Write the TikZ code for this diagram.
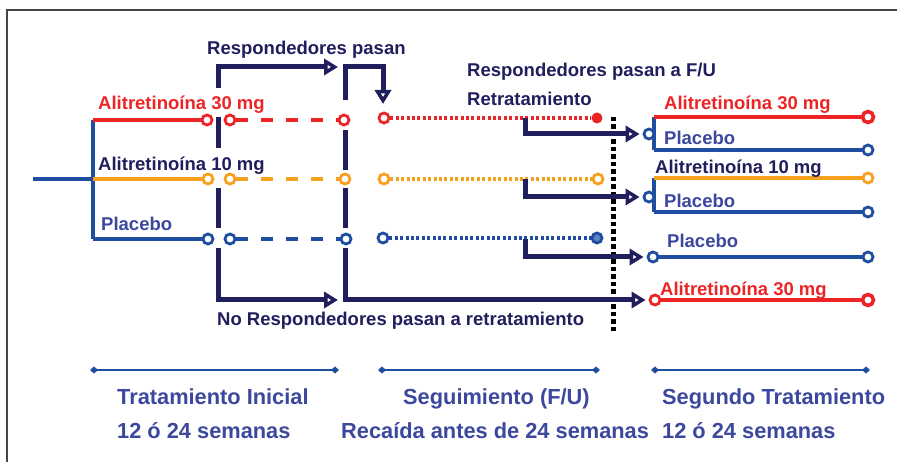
\documentclass[tikz,border=0pt]{standalone}
\usepackage{fontspec}
\setmainfont{Liberation Sans}
\usetikzlibrary{arrows.meta}
\definecolor{navy}{RGB}{32,30,92}
\definecolor{cred}{RGB}{237,36,38}
\definecolor{corange}{RGB}{247,160,30}
\definecolor{cblue}{RGB}{31,78,160}
\definecolor{lblue}{RGB}{59,72,158}
\definecolor{frame}{RGB}{70,70,70}
\tikzset{
  ring/.style={circle, draw, fill=white, line width=2.8pt, minimum size=10pt, inner sep=0pt},
  ringend/.style={ring, line width=3.6pt, minimum size=11pt},
  solidl/.style={line width=3.2pt},
  dashl/.style={line width=3.4pt, dash pattern=on 12pt off 13pt},
  dotl/.style={line width=3.2pt, dash pattern=on 3pt off 2.4pt},
  navyl/.style={draw=navy, line width=5pt},
  navyarrow/.style={navyl, -{Triangle[open, length=14pt, width=16pt, line width=3.8pt]}},
  lab/.style={anchor=base west, inner sep=0pt, font=\fontsize{18.5}{20}\selectfont\bfseries},
  blab/.style={anchor=base west, inner sep=0pt, font=\fontsize{21.8}{24}\selectfont\bfseries, text=lblue},
  span/.style={draw=cblue, line width=2pt, {Diamond[length=8pt,width=7pt]}-{Diamond[length=8pt,width=7pt]}}
}
\begin{document}
\begin{tikzpicture}[x=1pt,y=-1pt]
\useasboundingbox (0,0) rectangle (897,462);
% frame
\coordinate (fbl) at (7,462);
\coordinate (ftl) at (7,10);
\coordinate (ftr) at (897,10);
\draw[frame, line width=2pt] (fbl) -- (ftl) -- (ftr);

% ---------- initial treatment ----------
\coordinate (root) at (33,179);
\coordinate (bT) at (93,120);
\coordinate (bM) at (93,179);
\coordinate (bB) at (93,239);
\draw[cblue, solidl] (root) -- (bM);
\draw[cblue, solidl] (bT) -- (bB);

\node[ring, draw=cred] (r1) at (207,120) {};
\node[ring, draw=corange] (o1) at (208,179) {};
\node[ring, draw=cblue] (p1) at (208,239) {};
\draw[cred, solidl] (bT) -- (r1);
\draw[corange, solidl] (bM) -- (o1);
\draw[cblue, solidl] (bB) -- (p1);

\node[ring, draw=cred] (r2) at (230,120) {};
\node[ring, draw=corange] (o2) at (230,179) {};
\node[ring, draw=cblue] (p2) at (230,239) {};
\node[ring, draw=cred] (r3) at (344,120) {};
\node[ring, draw=corange] (o3) at (345,179) {};
\node[ring, draw=cblue] (p3) at (346,239) {};
\draw[cred, dashl] (r2) -- (r3);
\draw[corange, dashl] (o2) -- (o3);
\draw[cblue, dashl] (p2) -- (p3);

% ---------- follow-up ----------
\node[ring, draw=cred] (r4) at (384,118) {};
\node[ring, draw=corange] (o4) at (384,179) {};
\node[ring, draw=cblue] (p4) at (383,238) {};
\node[circle, fill=cred, minimum size=11pt, inner sep=0pt] (r5) at (597,118) {};
\node[ring, draw=corange] (o5) at (598,179) {};
\node[ring, draw=cblue, fill=cblue!70] (p5) at (597,238) {};
\draw[cred, dotl] (r4) -- (r5);
\draw[corange, dotl] (o4) -- (o5);
\draw[cblue, dotl] (p4) -- (p5);

% ---------- navy connectors ----------
\coordinate (aL0) at (218,88);
\coordinate (aL1) at (218,67);
\coordinate (aLt) at (338,67);
\draw[navyarrow] (aL0) -- (aL1) -- (aLt);
\coordinate (aR0) at (345,100);
\coordinate (aR1) at (345,67);
\coordinate (aR2) at (383,67);
\coordinate (aRt) at (383,104);
\draw[navyarrow] (aR0) -- (aR1) -- (aR2) -- (aRt);

\coordinate (vL1a) at (218,117); \coordinate (vL1b) at (218,148);
\coordinate (vL2a) at (218,188); \coordinate (vL2b) at (218,228);
\coordinate (vR1a) at (345,130); \coordinate (vR1b) at (345,170);
\coordinate (vR2a) at (345,188); \coordinate (vR2b) at (345,228);
\draw[navyl] (vL1a) -- (vL1b);
\draw[navyl] (vL2a) -- (vL2b);
\draw[navyl] (vR1a) -- (vR1b);
\draw[navyl] (vR2a) -- (vR2b);

\coordinate (nL0) at (218,248);
\coordinate (nL1) at (218,300);
\coordinate (nLt) at (338,300);
\draw[navyarrow] (nL0) -- (nL1) -- (nLt);

% black dotted separator
\coordinate (sepT) at (613,117);
\coordinate (sepB) at (613,331);
\draw[black, line width=5pt, dash pattern=on 4.5pt off 3pt] (sepT) -- (sepB);

% ---------- second treatment ----------
% group 1
\coordinate (g1t) at (654,117);
\coordinate (g1b) at (654,150);
\draw[cblue, solidl] (g1t) -- (g1b);
\node[ring, draw=cblue] (g1) at (649,134) {};
\node[ringend, draw=cred] (g1re) at (868,117) {};
\node[ring, draw=cblue] (g1pe) at (868,150) {};
\draw[cred, solidl] (g1t) -- (g1re);
\draw[cblue, solidl] (g1b) -- (g1pe);
% group 2
\coordinate (g2t) at (654,178);
\coordinate (g2b) at (654,212);
\draw[cblue, solidl] (g2t) -- (g2b);
\node[ring, draw=cblue] (g2) at (649,197) {};
\node[ring, draw=corange] (g2oe) at (868,178) {};
\node[ring, draw=cblue] (g2pe) at (868,212) {};
\draw[corange, solidl] (g2t) -- (g2oe);
\draw[cblue, solidl] (g2b) -- (g2pe);
% group 3
\node[ring, draw=cblue] (g3) at (653,257) {};
\node[ring, draw=cblue] (g3e) at (868,257) {};
\draw[cblue, solidl] (g3) -- (g3e);
% group 4
\node[ring, draw=cred] (g4) at (655,300) {};
\node[ringend, draw=cred] (g4e) at (868,300) {};
\draw[cred, solidl] (g4) -- (g4e);

% retreatment arrows
\coordinate (t1) at (525,118);
\coordinate (t2) at (525,179);
\coordinate (t3) at (525,239);
\draw[navyarrow, shorten >=3pt] (t1) |- (g1);
\draw[navyarrow, shorten >=3pt] (t2) |- (g2);
\draw[navyarrow, shorten >=3pt] (t3) |- (g3);
\coordinate (nR0) at (345,248);
\draw[navyarrow, shorten >=3pt] (nR0) |- (g4);

% ---------- labels ----------
\node[lab, text=navy] (lrp) at (207,55) {Respondedores pasan};
\node[lab, text=cred] (la30) at (98,110) {Alitretinoína 30 mg};
\node[lab, text=navy] (la10) at (98,171) {Alitretinoína 10 mg};
\node[lab, text=lblue] (lpl) at (101,231) {Placebo};
\node[lab, text=navy] (lrfu) at (467,77) {Respondedores pasan a F/U};
\node[lab, text=navy] (lret) at (467,106) {Retratamiento};
\node[lab, text=navy] (lnr) at (217,326) {No Respondedores pasan a retratamiento};

\node[lab, text=cred] (ra30) at (664,110) {Alitretinoína 30 mg};
\node[lab, text=lblue] (rpl1) at (664,145) {Placebo};
\node[lab, text=navy] (ra10) at (655,174) {Alitretinoína 10 mg};
\node[lab, text=lblue] (rpl2) at (664,208) {Placebo};
\node[lab, text=lblue] (rpl3) at (667,248) {Placebo};
\node[lab, text=cred] (ra30b) at (660,296) {Alitretinoína 30 mg};

% ---------- bottom spans ----------
\coordinate (s1a) at (90,370); \coordinate (s1b) at (339,370);
\coordinate (s2a) at (378,370); \coordinate (s2b) at (600,370);
\coordinate (s3a) at (651,370); \coordinate (s3b) at (870,370);
\draw[span] (s1a) -- (s1b);
\draw[span] (s2a) -- (s2b);
\draw[span] (s3a) -- (s3b);

\node[blab] (bt1) at (117,404.5) {Tratamiento Inicial};
\node[blab] (bt2) at (117,438.5) {12 ó 24 semanas};
\node[blab] (bt3) at (403,404.5) {Seguimiento (F/U)};
\node[blab] (bt4) at (341,438.5) {Recaída antes de 24 semanas};
\node[blab] (bt5) at (662,404.5) {Segundo Tratamiento};
\node[blab] (bt6) at (662,438.5) {12 ó 24 semanas};
\end{tikzpicture}
\end{document}
